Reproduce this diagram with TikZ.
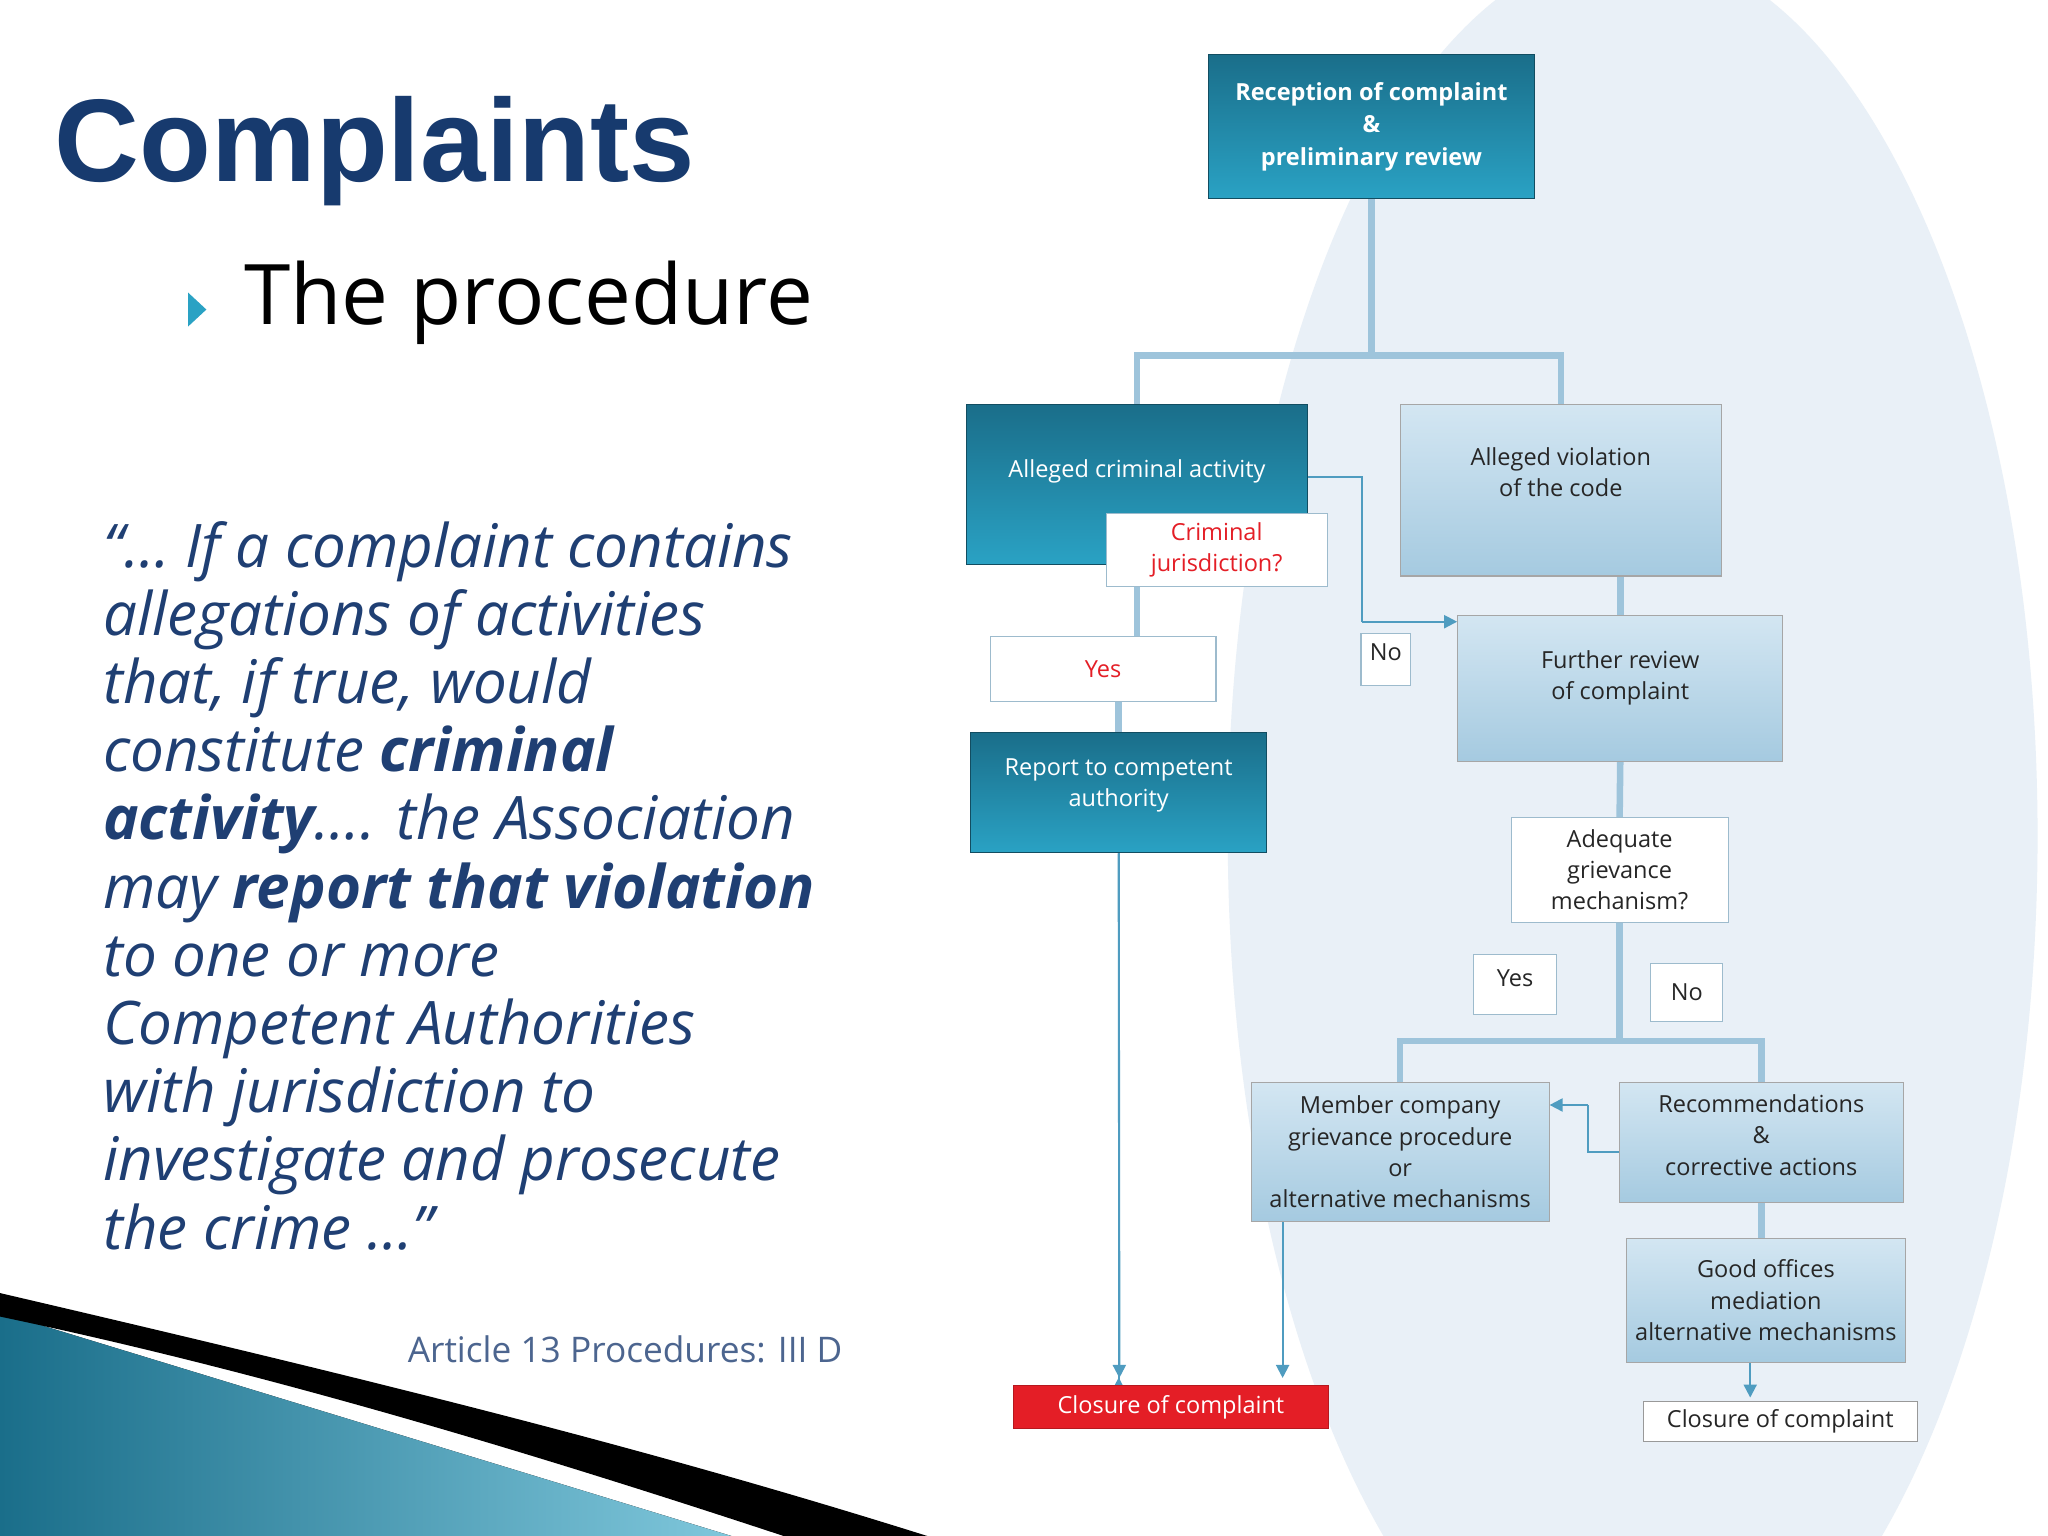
\documentclass[tikz,border=0pt]{standalone}
\usepackage{fontspec}
\setmainfont{Open Sans}
\newfontfamily\titlefont{Liberation Sans}
\usetikzlibrary{arrows.meta}
\definecolor{navy}{HTML}{173A6E}
\definecolor{qblue}{HTML}{1F3F73}
\definecolor{teal1}{HTML}{1A6E8A}
\definecolor{teal2}{HTML}{2AA2C4}
\definecolor{lb1}{HTML}{D3E6F2}
\definecolor{lb2}{HTML}{A5CAE0}
\definecolor{lnk}{HTML}{9EC4DB}
\definecolor{arr}{HTML}{4F9CC0}
\definecolor{ell}{HTML}{E9F0F7}
\definecolor{redc}{HTML}{E41E26}
\pgfdeclarelayer{back}\pgfdeclarelayer{lines}
\pgfsetlayers{back,lines,main}
\tikzset{
 dark/.style={draw=teal1!70!black, top color=teal1, bottom color=teal2, text=white, font=\fontsize{9}{12}\selectfont, align=center, inner sep=0pt},
 light/.style={draw=gray!70, top color=lb1, bottom color=lb2, text=black!85, font=\fontsize{9}{12}\selectfont, align=center, inner sep=0pt},
 wbox/.style={draw=lb2!80!gray, fill=white, text=black!85, font=\fontsize{9}{12}\selectfont, align=center, inner sep=0pt},
 trunk/.style={draw=lnk, line width=2.5pt},
 thin/.style={draw=arr, line width=0.8pt},
 tip/.style={thin, -{Triangle[length=5pt,width=5pt]}},
}
\begin{document}
\begin{tikzpicture}[x=0.5pt,y=-0.5pt]
\useasboundingbox (0,0) rectangle (1568,1176);
\begin{pgfonlayer}{back}
\fill[white] (0,0) rectangle (1568,1176);
\fill[ell] (1250,640) ellipse [x radius=310, y radius=680];
\fill[left color=teal1, right color=teal2!60!white] (0,1005) -- (560,1176) -- (0,1176) -- cycle;
\fill[black] (0,990) .. controls (300,1060) and (500,1110) .. (710,1176) -- (600,1176) .. controls (400,1110) and (200,1050) .. (0,1008) -- cycle;
\end{pgfonlayer}

\node[anchor=west, font=\titlefont\bfseries\fontsize{45}{50}\selectfont, text=navy] (title) at (35,116) {Complaints};
\fill[teal2] (144,224) -- (158,237) -- (144,250) -- cycle;
\node[anchor=west, font=\fontsize{32}{36}\selectfont, text=black] (proc) at (180,232) {The procedure};
\node[anchor=north west, align=left, text=qblue, font=\itshape\fontsize{23}{26.1}\selectfont] (quote) at (72,392)
{“… If a complaint contains\\ allegations of activities\\ that, if true, would\\ constitute \textbf{criminal}\\ \textbf{activity}…. the Association\\ may \textbf{report that violation}\\ to one or more\\ Competent Authorities\\ with jurisdiction to\\ investigate and prosecute\\ the crime …”};
\node[anchor=east, text=qblue!80, font=\fontsize{13.5}{16}\selectfont] (art) at (652,1033) {Article 13 Procedures: III D};

\node[dark, font=\bfseries\fontsize{9}{12.5}\selectfont, minimum width=125pt, minimum height=55pt] (rec) at (1050,97) {Reception of complaint\\ \&\\ preliminary review};
\node[dark, minimum width=130.5pt, minimum height=61pt, text depth=12pt] (crim) at (870.5,371) {Alleged criminal activity};
\node[wbox, text=redc, minimum width=84.5pt, minimum height=28pt] (jur) at (931.5,421) {Criminal\\ jurisdiction?};
\node[light, minimum width=123pt, minimum height=65.5pt, text depth=14pt] (viol) at (1195,375.5) {Alleged violation\\ of the code};
\node[wbox, minimum width=19pt, minimum height=20pt, text depth=6pt] (no1) at (1061,505) {No};
\node[light, minimum width=124.5pt, minimum height=56pt, text depth=10pt] (fur) at (1240.5,527) {Further review\\ of complaint};
\node[wbox, text=redc, minimum width=86.5pt, minimum height=25pt] (yes1) at (844.5,512) {Yes};
\node[dark, minimum width=113.5pt, minimum height=46pt, text depth=8pt] (rep) at (856.5,607) {Report to competent\\ authority};
\node[draw=redc!80!black, fill=redc, text=white, font=\fontsize{9}{12}\selectfont, minimum width=120.5pt, minimum height=16.5pt, inner sep=0pt] (clo1) at (896.5,1077.5) {Closure of complaint};
\node[wbox, minimum width=83pt, minimum height=40pt] (adq) at (1240,666) {Adequate\\ grievance\\ mechanism?};
\node[wbox, minimum width=32pt, minimum height=23pt, text depth=5pt] (yes2) at (1160,754) {Yes};
\node[wbox, minimum width=27.5pt, minimum height=22pt] (no2) at (1291.5,760) {No};
\node[light, minimum width=114pt, minimum height=53pt] (mem) at (1072,882) {Member company\\ grievance procedure\\ or\\ alternative mechanisms};
\node[light, minimum width=108.5pt, minimum height=46pt, text depth=6pt] (recs) at (1348.5,875) {Recommendations\\ \&\\ corrective actions};
\node[light, minimum width=107pt, minimum height=47.5pt] (good) at (1352,995.5) {Good offices\\ mediation\\ alternative mechanisms};
\node[wbox, draw=gray!80, minimum width=105pt, minimum height=15.5pt] (clo2) at (1363,1088.5) {Closure of complaint};

\begin{pgfonlayer}{lines}
\coordinate (s1) at (1050,272);
\draw[trunk] (rec.south) -- (s1);
\draw[trunk] (crim.north) |- (s1) -| (viol.north);
\draw[trunk] (crim.south) -- (yes1.north -| crim.south);
\draw[trunk] (yes1.south -| rep.north) -- (rep.north);
\draw[trunk] (viol.south -| fur.north) -- (fur.north);
\draw[trunk] (fur.south) -- (adq.north);
\coordinate (s2) at (1240,797);
\draw[trunk] (adq.south) -- (s2);
\draw[trunk] (mem.north) |- (s2) -| (recs.north);
\draw[trunk] (recs.south) -- (recs.south |- good.north);
\draw[thin] (1001,365) -- (1043,365) -- (1043,476);
\draw[tip] (1043,476) -- (fur.west |- 0,476);
\draw[tip] (rep.south) -- (rep.south |- clo1.north) ++(0,-6);
\draw[tip] (982,935) -- (982,1055);
\draw[tip] (rep.south) -- (857,1055);
\draw[thin] (recs.west |- 0,882) -- (1216,882) -- (1216,846);
\draw[tip] (1216,846) -- (mem.east |- 0,846);
\draw[tip] (1340,1043) -- (1340,1070);
\end{pgfonlayer}
\end{tikzpicture}
\end{document}
